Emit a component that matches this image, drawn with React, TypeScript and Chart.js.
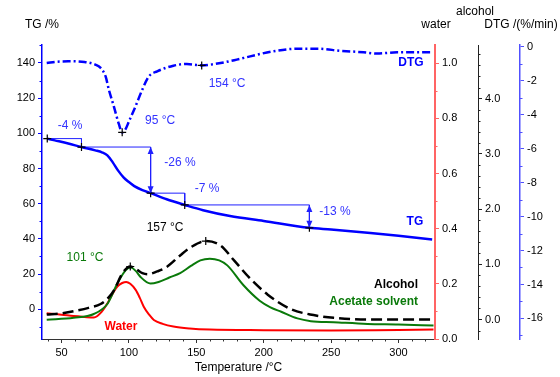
import React, { useEffect, useRef } from 'react';
import { Chart, registerables } from 'chart.js';

Chart.register(...registerables);

const FONT = '"Liberation Sans", Arial, Helvetica, sans-serif';

// ---- data (temperature in °C) ----
const tgTemp = [39.4, 45, 55, 64.8, 75, 80, 84, 88, 92, 96, 100, 104, 110, 116.1, 128, 141.4, 155, 175, 200, 233.9, 250, 275, 300, 325];
const tgValue = [97.0, 96.0, 94.2, 92.2, 90.3, 89.2, 87.5, 83.5, 78.8, 75.0, 72.3, 70.0, 67.7, 66.0, 62.5, 59.3, 56.3, 53.0, 50.2, 46.3, 45.3, 43.6, 41.8, 39.7];

const dtgTemp = [39, 47, 55, 67, 75, 79, 82.7, 85.1, 88.8, 92.5, 95, 97.5, 100, 104.9, 109.9, 114.8, 121, 133, 143, 154, 168, 180, 190, 207, 225, 240, 257, 274, 284, 299, 325];
const dtgValue = [-0.96, -0.88, -0.86, -0.9, -1.05, -1.25, -1.75, -2.53, -3.51, -4.55, -5.04, -4.85, -4.4, -3.51, -2.53, -1.75, -1.45, -1.12, -1.02, -1.1, -0.96, -0.76, -0.57, -0.27, -0.12, -0.12, -0.24, -0.33, -0.4, -0.33, -0.33];

const alcTemp = [39, 50, 59, 70, 79, 85, 89, 95, 101, 106, 110, 114, 121, 128, 138, 146, 157, 168, 178, 190, 203, 220, 237, 252, 277, 326];
const alcValue = [0.09, 0.11, 0.15, 0.21, 0.28, 0.40, 0.53, 0.83, 0.96, 0.9, 0.84, 0.82, 0.87, 0.95, 1.16, 1.31, 1.42, 1.34, 1.07, 0.74, 0.45, 0.19, 0.08, 0.03, 0.0, 0.0];

const aceTemp = [39, 59, 74, 84, 91.4, 97.5, 101.5, 105, 108.6, 116, 122, 130, 138, 146, 153, 160, 167, 173, 185, 197, 205, 213, 225, 235, 252, 277, 300, 326];
const aceValue = [-0.005, 0.03, 0.10, 0.28, 0.65, 0.89, 0.94, 0.88, 0.77, 0.65, 0.68, 0.76, 0.84, 0.97, 1.07, 1.10, 1.07, 0.98, 0.62, 0.34, 0.22, 0.14, 0.02, -0.03, -0.05, -0.08, -0.09, -0.11];

const waterTemp = [39, 50, 59, 67, 74, 80, 84, 88, 91.4, 95, 98, 101, 105, 108, 111, 115, 118.5, 125, 133, 145, 160, 200, 250, 300, 326];
const waterValue = [0.093, 0.088, 0.083, 0.08, 0.078, 0.10, 0.129, 0.165, 0.19, 0.203, 0.207, 0.2, 0.178, 0.15, 0.117, 0.088, 0.069, 0.055, 0.045, 0.038, 0.034, 0.032, 0.031, 0.033, 0.034];

// TG step evaluation points
const stepTemp = [39.4, 64.8, 116.1, 141.4, 233.9];
const stepTG = [97.0, 92.2, 66.0, 59.3, 46.3];
const stepLabels = ['-4 %', '-26 %', '-7 %', '-13 %'];
const arrowSteps = [1, 3];

// peak markers
const dtgPeakTemp = [95, 154];
const dtgPeakValue = [-5.04, -1.1];
const alcPeakTemp = [101, 157];
const alcPeakValue = [0.96, 1.42];

// axes
const xRange = [35.5, 327.1];
const xMajor = [50, 100, 150, 200, 250, 300];
const xMinor = [40, 60, 70, 80, 90, 110, 120, 130, 140, 160, 170, 180, 190, 210, 220, 230, 240, 260, 270, 280, 290, 310, 320];
const tgRange = [-16.9, 150.2];
const tgMajor = [0, 20, 40, 60, 80, 100, 120, 140];
const tgMinor = [-10, 10, 30, 50, 70, 90, 110, 130, 150];
const waterRange = [0, 1.066];
const waterMajor = [0, 0.2, 0.4, 0.6, 0.8, 1.0];
const waterMinor = [0.1, 0.3, 0.5, 0.7, 0.9];
const alcRange = [-0.353, 4.97];
const alcMajor = [0, 1, 2, 3, 4];
const alcMinor = [-0.2, 0.2, 0.4, 0.6, 0.8, 1.2, 1.4, 1.6, 1.8, 2.2, 2.4, 2.6, 2.8, 3.2, 3.4, 3.6, 3.8, 4.2, 4.4, 4.6, 4.8];
const dtgRange = [-17.21, 0.1];
const dtgMajor = [0, -2, -4, -6, -8, -10, -12, -14, -16];
const dtgMinor = [-1, -3, -5, -7, -9, -11, -13, -15, -17];

// annotation texts (positioned in temperature / TG coordinates)
const notes = [
  { text: '95 °C', t: 123.1, v: 107, color: '#3333ff', bold: false, align: 'center' },
  { text: '154 °C', t: 172.8, v: 128.3, color: '#3333ff', bold: false, align: 'center' },
  { text: '157 °C', t: 126.8, v: 46.2, color: '#000000', bold: false, align: 'center' },
  { text: '101 °C', t: 67.4, v: 29.1, color: '#0a7a0a', bold: false, align: 'center' },
  { text: 'Water', t: 94.1, v: -9.8, color: '#ff0000', bold: true, align: 'center' },
  { text: 'Alcohol', t: 314.5, v: 13.8, color: '#000000', bold: true, align: 'right' },
  { text: 'Acetate solvent', t: 314.5, v: 4.1, color: '#0a7a0a', bold: true, align: 'right' },
  { text: 'TG', t: 312.2, v: 49.6, color: '#0000ff', bold: true, align: 'center' },
  { text: 'DTG', t: 309.3, v: 139.9, color: '#0000ff', bold: true, align: 'center' },
];
const stepNotePos = [
  { t: 56.3, v: 104.1 },
  { t: 137.9, v: 83.1 },
  { t: 158, v: 68.4 },
  { t: 252.9, v: 55.3 },
];

const pts = (xs: number[], ys: number[]) => xs.map((x, i) => ({ x, y: ys[i] }));

function curve(label: string, xs: number[], ys: number[], axis: string, color: string, width: number, dash: number[]) {
  return {
    label,
    data: pts(xs, ys),
    yAxisID: axis,
    borderColor: color,
    backgroundColor: color,
    borderWidth: width,
    borderDash: dash,
    borderCapStyle: 'butt',
    pointRadius: 0,
    pointHoverRadius: 0,
    fill: false,
    cubicInterpolationMode: 'monotone',
    tension: 0.4,
  };
}

function crosses(xs: number[], ys: number[], axis: string) {
  return {
    data: pts(xs, ys),
    yAxisID: axis,
    showLine: false,
    pointStyle: 'cross',
    pointRadius: 4,
    pointHoverRadius: 4,
    pointBorderColor: '#000',
    pointBorderWidth: 1.2,
    borderColor: '#000',
  };
}

function axis(position: string, range: number[], majors: number[], fmt: (v: number) => string, color: string, bw: number, size: number, weight: number) {
  return {
    type: 'linear',
    position,
    min: range[0],
    max: range[1],
    weight,
    afterBuildTicks: (s: any) => {
      s.ticks = majors.map((v) => ({ value: v }));
    },
    afterFit: (s: any) => {
      if (position === 'bottom') s.height = size;
      else s.width = size;
    },
    ticks: {
      color: '#000',
      font: { family: FONT, size: 11 },
      padding: 3,
      autoSkip: false,
      maxRotation: 0,
      minRotation: 0,
      callback: (v: any) => fmt(Number(v)),
    },
    grid: {
      drawOnChartArea: false,
      drawTicks: true,
      tickLength: 4,
      tickWidth: 1,
      tickColor: color,
      color,
    },
    border: { display: true, color, width: bw },
  };
}

const AXIS_COLORS = { x: '#333333', yTG: '#0000ff', yW: '#ff6464', yAlc: '#222222', yDTG: '#5050ff' };

const decor = {
  id: 'decor',
  afterDatasetsDraw(chart: any) {
    const { ctx, scales } = chart;
    const x = scales.x;
    const y = scales.yTG;
    ctx.save();
    // arrow heads
    ctx.fillStyle = '#2020ff';
    arrowSteps.forEach((i) => {
      const px = x.getPixelForValue(stepTemp[i + 1]);
      const p1 = y.getPixelForValue(stepTG[i]);
      const p2 = y.getPixelForValue(stepTG[i + 1]);
      const head = (tip: number, dir: number) => {
        ctx.beginPath();
        ctx.moveTo(px, tip);
        ctx.lineTo(px - 3, tip + dir * 7);
        ctx.lineTo(px + 3, tip + dir * 7);
        ctx.closePath();
        ctx.fill();
      };
      head(p1, 1);
      head(p2, -1);
    });
    // texts
    ctx.textBaseline = 'middle';
    notes.forEach((n) => {
      ctx.font = `${n.bold ? 'bold ' : ''}12px ${FONT}`;
      ctx.fillStyle = n.color;
      ctx.textAlign = n.align;
      ctx.fillText(n.text, x.getPixelForValue(n.t), y.getPixelForValue(n.v));
    });
    ctx.font = `12px ${FONT}`;
    ctx.fillStyle = '#3333ff';
    ctx.textAlign = 'center';
    stepLabels.forEach((s, i) => {
      ctx.fillText(s, x.getPixelForValue(stepNotePos[i].t), y.getPixelForValue(stepNotePos[i].v));
    });
    ctx.restore();
  },
  afterDraw(chart: any) {
    const { ctx, scales } = chart;
    ctx.save();
    const minor = (scale: any, values: number[], color: string) => {
      ctx.strokeStyle = color;
      ctx.lineWidth = 1;
      ctx.beginPath();
      values.forEach((v) => {
        const p = Math.round(scale.getPixelForValue(v)) + 0.5;
        if (scale.isHorizontal()) {
          ctx.moveTo(p, scale.top);
          ctx.lineTo(p, scale.top + 2.5);
        } else if (scale.position === 'left') {
          ctx.moveTo(scale.right, p);
          ctx.lineTo(scale.right - 2.5, p);
        } else {
          ctx.moveTo(scale.left, p);
          ctx.lineTo(scale.left + 2.5, p);
        }
      });
      ctx.stroke();
    };
    minor(scales.x, xMinor, AXIS_COLORS.x);
    minor(scales.yTG, tgMinor, AXIS_COLORS.yTG);
    minor(scales.yW, waterMinor, AXIS_COLORS.yW);
    minor(scales.yAlc, alcMinor, AXIS_COLORS.yAlc);
    minor(scales.yDTG, dtgMinor, AXIS_COLORS.yDTG);

    // axis titles
    ctx.fillStyle = '#000';
    ctx.textBaseline = 'middle';
    ctx.textAlign = 'center';
    ctx.font = `12px ${FONT}`;
    ctx.fillText('TG /%', scales.yTG.right, 24.5);
    ctx.fillText('water', scales.yW.left + 1, 24.5);
    ctx.fillText('alcohol', scales.yAlc.left - 3, 12);
    ctx.fillText('DTG /(%/min)', scales.yDTG.left + 1, 24.5);
    ctx.fillText('Temperature /°C', (chart.chartArea.left + chart.chartArea.right) / 2, 368);
    ctx.restore();
  },
};

export default function App() {
  const ref = useRef<HTMLCanvasElement>(null);
  useEffect(() => {
    const canvas = ref.current;
    if (!canvas) return;

    const stepSets: any[] = [];
    for (let i = 0; i < stepTemp.length - 1; i++) {
      stepSets.push({
        data: [
          { x: stepTemp[i], y: stepTG[i] },
          { x: stepTemp[i + 1], y: stepTG[i] },
          { x: stepTemp[i + 1], y: stepTG[i + 1] },
        ],
        yAxisID: 'yTG',
        borderColor: '#2020ff',
        borderWidth: 1,
        pointRadius: 0,
        pointHoverRadius: 0,
        tension: 0,
        fill: false,
      });
    }

    const chart = new Chart(canvas, {
      type: 'line',
      data: {
        datasets: [
          crosses(stepTemp, stepTG, 'yTG'),
          crosses(dtgPeakTemp, dtgPeakValue, 'yDTG'),
          crosses(alcPeakTemp, alcPeakValue, 'yAlc'),
          curve('TG', tgTemp, tgValue, 'yTG', '#0000ff', 2.5, []),
          curve('DTG', dtgTemp, dtgValue, 'yDTG', '#0000ff', 2.5, [8, 3, 2, 3]),
          curve('Alcohol', alcTemp, alcValue, 'yAlc', '#000000', 2.5, [11, 5]),
          curve('Acetate solvent', aceTemp, aceValue, 'yAlc', '#0a7a0a', 2, []),
          curve('Water', waterTemp, waterValue, 'yW', '#ff0000', 2, []),
          ...stepSets,
        ] as any,
      },
      options: {
        responsive: false,
        animation: false,
        devicePixelRatio: 1,
        events: [],
        layout: { padding: { top: 45, left: 0, right: 0, bottom: 0 } },
        plugins: {
          legend: { display: false },
          tooltip: { enabled: false },
          title: { display: false },
        },
        scales: {
          x: axis('bottom', xRange, xMajor, (v) => String(v), AXIS_COLORS.x, 1, 38, 0),
          yTG: axis('left', tgRange, tgMajor, (v) => String(v), AXIS_COLORS.yTG, 1.5, 42, 0),
          yW: axis('right', waterRange, waterMajor, (v) => v.toFixed(1), AXIS_COLORS.yW, 2, 43, 0),
          yAlc: axis('right', alcRange, alcMajor, (v) => v.toFixed(1), AXIS_COLORS.yAlc, 1, 42, 1),
          yDTG: axis('right', dtgRange, dtgMajor, (v) => String(v), AXIS_COLORS.yDTG, 1.5, 40, 2),
        } as any,
      },
      plugins: [decor],
    } as any);
    return () => chart.destroy();
  }, []);

  return (
    <div style={{ position: 'absolute', left: 0, top: 0, width: 560, height: 377, background: '#fff' }}>
      <canvas ref={ref} width={560} height={377} style={{ display: 'block', width: 560, height: 377 }} />
    </div>
  );
}
